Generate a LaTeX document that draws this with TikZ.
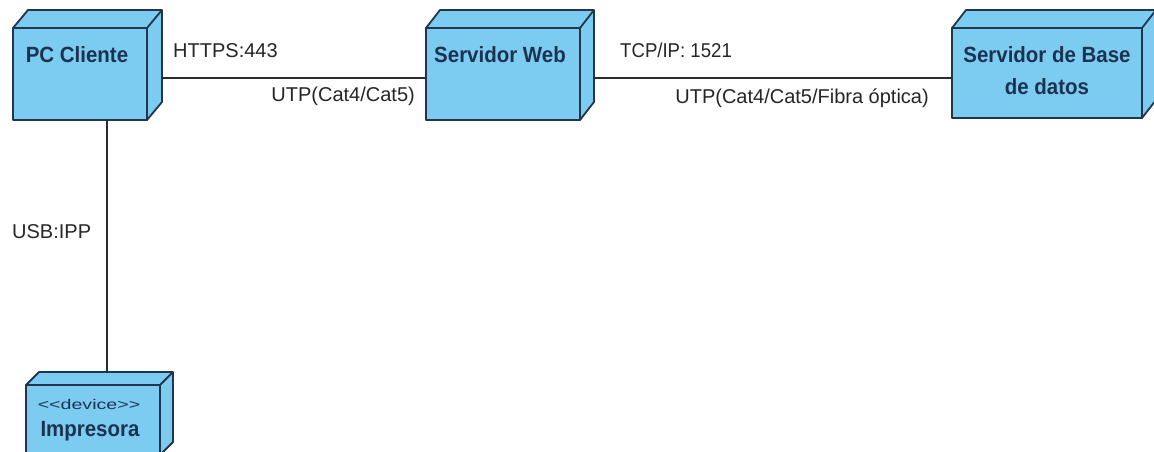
\documentclass[tikz,border=0pt]{standalone}
\usepackage{fontspec}
\setmainfont{Liberation Sans}
\newfontfamily\lblfont{Liberation Sans}
\newfontfamily\lblnarrow[FakeStretch=0.93]{Liberation Sans}
\newfontfamily\namefont[FakeStretch=0.93]{Liberation Sans}
\newfontfamily\stereofont[FakeStretch=1.4]{Liberation Sans}
\usetikzlibrary{calc}

\definecolor{devfill}{HTML}{7CCBF1}
\definecolor{devline}{HTML}{22364B}
\definecolor{devtext}{HTML}{1C3350}
\definecolor{linkline}{HTML}{2B2B2B}
\definecolor{linktext}{HTML}{262626}

\tikzset{
  devface/.style={rectangle, draw=devline, fill=devfill, line width=1.8pt,
    inner sep=0pt, outer sep=0pt, line join=round},
  devside/.style={draw=devline, fill=devfill, line width=1.8pt, line join=round},
  devlabel/.style={font=\namefont\fontsize{22}{26}\selectfont\bfseries, text=devtext, inner sep=0pt},
  stereolabel/.style={font=\stereofont\fontsize{14}{16}\selectfont, text=devtext, inner sep=0pt},
  linklabel/.style={font=\lblfont\fontsize{20}{24}\selectfont, text=linktext, inner sep=0pt},
  linklabelnarrow/.style={font=\lblnarrow\fontsize{20}{24}\selectfont, text=linktext, inner sep=0pt},
  link/.style={draw=linkline, line width=1.6pt},
}

% 3D deployment node: name, x, y (front top-left), width, height, depth dx, depth dy
\newcommand\devicebox[7]{%
  \filldraw[devside] (#2,#3) -- ++(#6,-#7) -- ++(#4,0) -- ++(0,#5) -- ++(-#6,#7) -- ++(0,-#5) -- cycle;
  \node[devface, minimum width=#4pt, minimum height=#5pt, anchor=north west] (#1) at (#2,#3) {};
  \draw[devline, line width=1.8pt] (#1.north east) -- ++(#6,-#7);
}

\begin{document}
\begin{tikzpicture}[x=1pt, y=-1pt]
\useasboundingbox (0,0) rectangle (1154,452);
\clip (0,0) rectangle (1154,452);
\fill[white] (0,0) rectangle (1154,452);

% connector end points on the back edges of the node faces
\coordinate (pc-port) at (162,78);
\coordinate (web-port) at (593,78);
\coordinate (pc-down) at (107,120);
\coordinate (imp-top) at (107,372);

\devicebox{pc}{13}{28}{134}{92}{15}{18}
\devicebox{web}{426}{28}{154}{92}{14}{18}
\devicebox{db}{952}{28}{190}{90}{14}{18}
\devicebox{imp}{26}{385}{134}{70}{13}{13}

\draw[link] (pc-port) -- (pc-port -| web.west);
\draw[link] (web-port) -- (web-port -| db.west);
\draw[link] (pc-down) -- (imp-top);

% node names
\node[devlabel, anchor=base] (pc-name) at ($(pc.north)+(-3,35)$) {PC Cliente};
\node[devlabel, anchor=base] (web-name) at ($(web.north)+(-3,35)$) {Servidor Web};
\node[devlabel, anchor=base] (db-name1) at ($(db.north)+(0,35)$) {Servidor de Base};
\node[devlabel, anchor=base] (db-name2) at ($(db.north)+(0,67)$) {de datos};
\node[stereolabel, anchor=base] (imp-stereo) at ($(imp.north)+(-4,24)$) {<<device>>};
\node[devlabel, anchor=base] (imp-name) at ($(imp.north)+(-3,51)$) {Impresora};

% link labels
\node[linklabel, anchor=base west] (l-https) at (173,58) {HTTPS:443};
\node[linklabel, anchor=base east] (l-utp1) at (415,102) {UTP(Cat4/Cat5)};
\node[linklabelnarrow, anchor=base west] (l-tcp) at (620,58) {TCP/IP: 1521};
\node[linklabel, anchor=base east] (l-utp2) at (929,103) {UTP(Cat4/Cat5/Fibra óptica)};
\node[linklabel, anchor=base west] (l-usb) at (12,238) {USB:IPP};
\end{tikzpicture}
\end{document}
